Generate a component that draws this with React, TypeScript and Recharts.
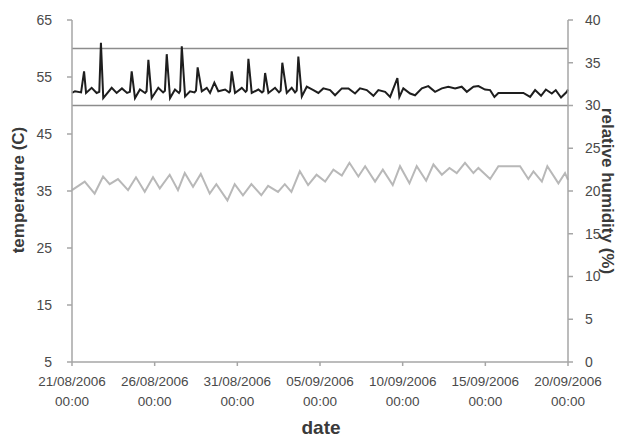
import { Line, LineChart, ReferenceLine, XAxis, YAxis } from "recharts";

// x values are days since 21/08/2006 00:00
const dateLabels = ["21/08/2006", "26/08/2006", "31/08/2006", "05/09/2006", "10/09/2006", "15/09/2006", "20/09/2006"];
const dayTicks = [0, 5, 10, 15, 20, 25, 30];
const timeLabel = "00:00";
const tempTicks = [5, 15, 25, 35, 45, 55, 65];
const humTicks = [0, 5, 10, 15, 20, 25, 30, 35, 40];
const tempBand = [50, 60];

const tempTimes = [
  0, 0.18, 0.55, 0.73, 0.85, 1.19, 1.49, 1.65, 1.75, 1.89,
  2.4, 2.7, 3.02, 3.33, 3.5, 3.61, 3.81, 4.11, 4.42, 4.51,
  4.62, 4.82, 5.22, 5.51, 5.62, 5.73, 5.93, 6.23, 6.47, 6.54,
  6.64, 6.84, 7.14, 7.41, 7.5, 7.6, 7.85, 8.15, 8.35, 8.61,
  8.85, 9.26, 9.5, 9.56, 9.66, 9.86, 10.27, 10.5, 10.57, 10.67,
  10.87, 11.27, 11.49, 11.58, 11.68, 11.88, 12.28, 12.52, 12.62, 12.72,
  12.99, 13.29, 13.49, 13.59, 13.69, 13.9, 14.2, 14.6, 14.9, 15.2,
  15.61, 15.91, 16.32, 16.72, 17.12, 17.42, 17.83, 18.23, 18.53, 18.94,
  19.24, 19.44, 19.68, 19.8, 20.04, 20.45, 20.75, 21.16, 21.55, 21.96,
  22.37, 22.76, 23.17, 23.57, 23.88, 24.28, 24.58, 24.98, 25.29, 25.55,
  25.79, 27.3, 27.71, 28.01, 28.37, 28.66, 29.02, 29.26, 29.58, 29.93,
  30,
];
const tempValues = [
  52.2, 52.5, 52.3, 56.0, 52.2, 53.1, 52.2, 52.4, 61.0, 51.3,
  53.1, 52.2, 53.0, 52.2, 52.4, 56.0, 51.3, 52.8, 52.2, 52.5,
  58.0, 51.3, 53.1, 52.3, 52.6, 59.0, 51.3, 52.8, 52.2, 52.6,
  60.4, 51.6, 52.5, 52.3, 52.6, 56.7, 52.5, 53.1, 52.2, 54.0,
  52.5, 52.8, 52.3, 52.5, 56.0, 52.2, 53.1, 52.4, 52.6, 58.2,
  52.2, 52.8, 52.3, 52.5, 55.7, 52.2, 53.1, 52.3, 52.6, 57.5,
  52.2, 53.1, 52.3, 52.6, 58.6, 51.6, 53.3, 52.7, 52.2, 53.0,
  52.7, 51.8, 53.0, 53.0, 52.1, 53.0, 52.7, 51.7, 52.7, 52.4,
  51.5, 53.0, 54.8, 51.5, 53.0, 52.1, 51.8, 53.0, 53.4, 52.4,
  53.0, 53.3, 53.0, 53.3, 52.4, 53.3, 53.4, 52.8, 52.7, 51.5,
  52.2, 52.2, 51.5, 52.7, 51.7, 52.8, 52.1, 52.7, 51.4, 52.4,
  52.8,
];

const humTimes = [
  0, 0.77, 1.37, 1.88, 2.28, 2.78, 3.39, 3.87, 4.4, 4.9,
  5.31, 5.91, 6.41, 6.82, 7.32, 7.79, 8.33, 8.73, 9.4, 9.84,
  10.34, 10.85, 11.45, 11.86, 12.46, 12.87, 13.27, 13.78, 14.28, 14.79,
  15.31, 15.81, 16.32, 16.78, 17.32, 17.73, 18.33, 18.8, 19.4, 19.84,
  20.41, 20.85, 21.42, 21.86, 22.37, 22.83, 23.27, 23.77, 24.28, 24.58,
  25.29, 25.79, 27.1, 27.6, 27.91, 28.42, 28.75, 29.42, 29.82, 30,
];
const humValues = [
  20.1, 21.1, 19.7, 21.7, 20.8, 21.4, 20.1, 21.6, 19.9, 21.6,
  20.3, 21.9, 20.1, 22.1, 20.5, 22.0, 19.7, 20.8, 18.9, 20.8,
  19.5, 20.8, 19.5, 20.6, 19.9, 20.8, 19.9, 22.3, 20.7, 21.9,
  21.1, 22.5, 21.8, 23.3, 21.7, 22.9, 21.1, 22.5, 20.7, 22.9,
  20.9, 22.9, 21.2, 23.1, 21.9, 22.7, 22.1, 23.3, 22.1, 22.7,
  21.4, 22.9, 22.9, 21.4, 22.3, 21.1, 22.9, 20.9, 22.1, 21.3,
];

const tempData = tempTimes.map((t, i) => ({ t, v: tempValues[i] }));
const humData = humTimes.map((t, i) => ({ t, v: humValues[i] }));

const FONT = '"Liberation Sans", Arial, sans-serif';
const AXIS = { stroke: "#a6a6a6", strokeWidth: 1.5 };

const DateTick = ({ x, y, payload }: any) => {
  const idx = dayTicks.indexOf(payload.value);
  return (
    <g transform={`translate(${x},${y})`}>
      <text textAnchor="middle" fill="#4a4a4a" fontSize={13.5} fontFamily={FONT}>
        <tspan x={0} dy={20}>{dateLabels[idx]}</tspan>
        <tspan x={0} dy={20}>{timeLabel}</tspan>
      </text>
    </g>
  );
};

const titleStyle = {
  position: "absolute" as const,
  whiteSpace: "nowrap" as const,
  fontFamily: FONT,
  fontWeight: 700,
  color: "#3a3a3a",
};

export default function App() {
  return (
    <div style={{ position: "absolute", left: 0, top: 0, width: 631, height: 439, background: "#fff" }}>
      <LineChart width={631} height={439} margin={{ top: 20, right: 0, bottom: 0, left: 0 }}>
        <XAxis
          dataKey="t"
          type="number"
          domain={[0, 30]}
          ticks={dayTicks}
          height={77}
          tick={<DateTick />}
          tickSize={4}
          tickMargin={0}
          axisLine={AXIS}
          tickLine={AXIS}
          allowDuplicatedCategory={false}
        />
        <YAxis
          yAxisId="left"
          domain={[5, 65]}
          ticks={tempTicks}
          width={72}
          tickSize={5}
          tickMargin={15}
          axisLine={AXIS}
          tickLine={AXIS}
          tick={{ fill: "#4a4a4a", fontSize: 14, fontFamily: FONT }}
        />
        <YAxis
          yAxisId="right"
          orientation="right"
          domain={[0, 40]}
          ticks={humTicks}
          width={63}
          tickSize={5}
          tickMargin={12}
          axisLine={AXIS}
          tickLine={AXIS}
          tick={{ fill: "#4a4a4a", fontSize: 14, fontFamily: FONT, textAnchor: "start" }}
        />
        {tempBand.map((v) => (
          <ReferenceLine key={v} yAxisId="left" y={v} stroke="#8c8c8c" strokeWidth={1.5} />
        ))}
        <Line
          yAxisId="right"
          data={humData}
          dataKey="v"
          type="linear"
          stroke="#b8b8b8"
          strokeWidth={2}
          dot={false}
          isAnimationActive={false}
        />
        <Line
          yAxisId="left"
          data={tempData}
          dataKey="v"
          type="linear"
          stroke="#1e1e1e"
          strokeWidth={2}
          dot={false}
          isAnimationActive={false}
        />
      </LineChart>
      <div style={{ ...titleStyle, left: 19, top: 190, fontSize: 17, transform: "translate(-50%,-50%) rotate(-90deg)" }}>
        temperature (C)
      </div>
      <div style={{ ...titleStyle, left: 607, top: 191, fontSize: 17, transform: "translate(-50%,-50%) rotate(90deg)" }}>
        relative humidity (%)
      </div>
      <div style={{ ...titleStyle, left: 321, top: 428, fontSize: 19, transform: "translate(-50%,-50%)" }}>
        date
      </div>
    </div>
  );
}
